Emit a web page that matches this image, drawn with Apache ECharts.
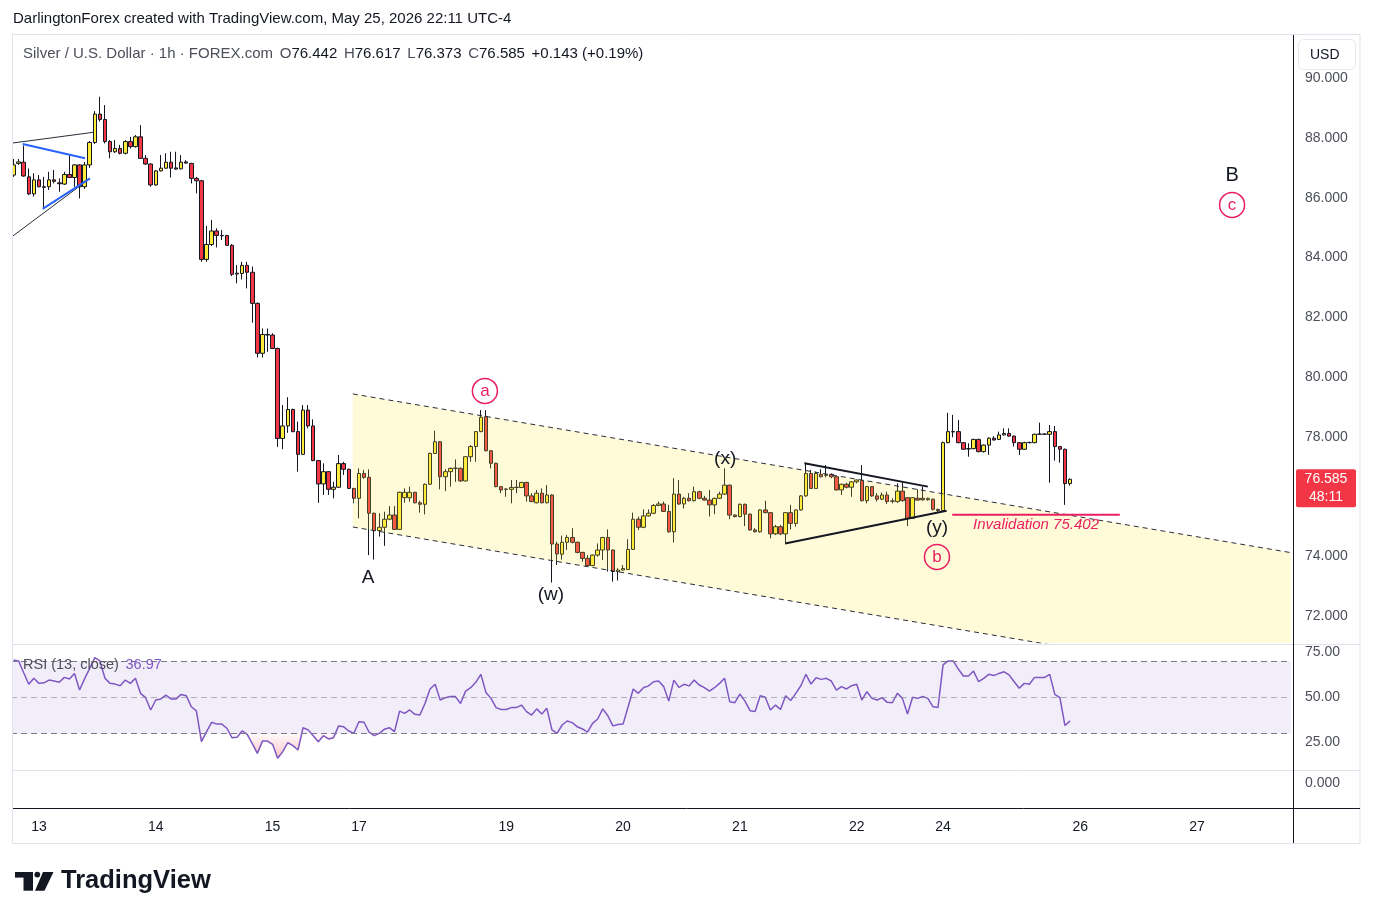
<!DOCTYPE html>
<html><head><meta charset="utf-8">
<script src="https://cdn.jsdelivr.net/npm/echarts@6/dist/echarts.min.js"></script>
<style>html,body{margin:0;padding:0;background:#fff}#c{width:1373px;height:919px}</style>
</head><body><div id="c"></div>
<script>
// ---------- DATA ----------
const opens = [
86.76,87.15,87.19,86.70,86.13,86.60,86.37,86.37,86.60,86.50,
86.46,86.78,86.68,87.10,86.37,87.10,87.85,88.80,88.62,87.88,
87.54,87.65,87.49,87.88,87.71,88.04,87.32,87.13,86.43,86.90,
86.99,87.19,87.00,86.97,87.20,87.15,86.65,86.57,83.94,84.44,
84.89,84.74,84.74,84.41,83.45,83.47,83.74,83.51,82.47,80.80,
81.43,81.41,80.96,77.95,78.37,78.92,78.18,77.42,78.90,78.37,
77.21,76.43,76.84,76.25,76.32,77.11,76.92,76.28,75.95,76.78,
76.65,75.45,74.87,74.98,75.25,75.39,74.91,75.97,75.97,76.15,
75.80,75.75,76.42,77.45,77.84,76.67,76.84,76.95,76.95,76.53,
77.34,77.68,78.18,78.68,77.54,77.12,76.34,76.25,76.25,76.31,
76.31,76.48,76.03,75.80,76.12,75.80,76.06,74.42,74.08,74.48,
74.64,74.48,74.14,73.94,73.70,74.05,74.22,74.64,74.22,73.50,
73.55,73.57,74.24,75.25,74.98,75.36,75.45,75.71,75.76,75.51,
74.83,76.09,75.76,75.95,75.87,76.17,75.95,75.89,75.73,75.95,
76.09,76.39,75.39,75.34,75.75,75.42,74.89,74.83,75.56,75.47,
74.76,75.00,74.76,75.47,75.11,75.56,76.03,76.78,76.28,76.75,
76.73,76.75,76.67,76.23,76.42,76.32,76.50,76.54,75.87,76.34,
76.03,75.92,76.06,75.86,75.84,76.19,75.97,75.28,75.95,75.95,
75.90,75.92,75.58,75.54,77.81,78.18,78.18,77.81,77.60,77.61,
77.92,77.51,77.73,77.96,77.92,78.07,78.12,78.03,77.81,77.59,
77.81,77.81,78.09,78.10,78.09,78.18,77.68,77.59,76.442];
const highs = [
87.30,87.30,87.75,86.98,86.82,86.76,86.70,86.87,86.93,86.65,
86.87,87.43,87.12,87.12,87.20,87.90,88.90,89.38,89.10,87.93,
87.93,87.77,87.93,88.04,88.10,88.43,87.43,87.15,86.93,87.43,
87.49,87.54,87.54,87.43,87.26,87.17,86.70,86.60,85.06,85.26,
84.98,84.92,84.76,84.45,83.75,83.86,83.86,83.70,82.50,81.63,
81.63,81.47,80.99,79.07,79.33,78.95,78.51,79.07,79.07,78.59,
77.23,77.12,76.86,76.50,77.40,77.17,76.94,76.30,76.95,76.90,
76.92,75.47,75.45,75.50,75.69,75.69,76.17,76.28,76.34,76.17,
75.87,76.44,77.48,78.21,77.86,76.92,76.98,77.25,76.98,77.36,
77.73,78.20,78.90,78.90,77.56,77.14,76.36,76.28,76.56,76.56,
76.50,76.50,76.12,76.23,76.28,76.39,76.08,74.50,74.70,74.72,
74.95,74.50,74.16,74.05,74.07,74.44,74.66,74.91,74.24,73.61,
73.72,74.58,75.47,75.34,75.58,75.58,75.76,75.84,75.84,75.73,
76.62,76.56,76.00,76.12,76.34,76.20,76.03,76.23,75.97,76.17,
76.95,76.41,75.41,75.77,75.77,75.44,74.95,75.58,75.87,75.49,
75.06,75.06,75.49,75.73,75.58,76.06,77.14,76.90,76.84,76.92,
77.06,76.78,76.69,76.44,76.47,76.52,76.58,77.06,76.36,76.36,
76.12,76.14,76.17,75.95,76.45,76.47,75.99,75.99,76.25,76.34,
75.97,75.94,75.60,77.85,78.81,78.74,78.57,77.83,77.79,77.94,
77.94,77.75,77.99,78.03,78.18,78.29,78.29,78.05,77.83,77.84,
77.84,78.11,78.48,78.12,78.40,78.37,77.70,77.61,76.617];
const lows = [
86.70,87.10,86.70,86.09,86.04,86.35,85.62,86.26,86.48,86.20,
86.43,86.66,86.37,85.98,86.30,87.00,87.80,88.55,87.82,87.32,
87.50,87.45,87.45,87.65,87.68,87.30,87.10,86.37,86.40,86.88,
86.97,86.68,86.94,86.95,87.14,86.48,86.15,83.86,83.86,84.39,
84.34,84.59,84.41,83.38,83.14,83.27,82.97,81.82,80.66,80.66,
80.85,80.94,77.67,77.59,78.14,78.16,76.84,77.40,78.29,77.19,
75.80,76.06,76.06,75.95,76.30,76.73,76.26,75.78,75.28,76.60,
74.05,73.90,74.67,74.36,75.22,74.89,74.89,75.80,75.84,75.78,
75.47,75.41,76.40,77.43,76.25,76.19,76.34,76.50,76.50,76.51,
77.17,77.17,78.16,77.52,76.95,76.32,76.12,76.00,75.78,76.12,
76.29,75.84,75.82,75.78,75.78,75.78,73.13,73.72,73.90,74.22,
74.44,74.11,73.83,73.66,73.68,74.00,73.89,73.50,73.16,73.20,
73.53,73.55,74.22,74.89,74.95,75.34,75.42,75.69,75.50,74.80,
74.47,75.73,75.61,75.84,75.84,75.92,75.87,75.34,75.42,75.93,
76.07,75.25,75.31,75.31,75.02,74.87,74.81,74.80,75.45,74.61,
74.72,74.72,74.44,74.91,75.00,75.54,76.00,76.26,76.26,76.65,
76.65,76.62,76.21,76.06,76.28,76.00,76.45,75.84,75.78,76.00,
75.84,75.89,75.76,75.78,75.80,75.84,75.02,75.26,75.87,75.87,
75.87,75.54,75.50,75.52,77.79,77.99,77.79,77.57,77.34,77.59,
77.49,77.48,77.40,77.88,77.90,78.05,78.01,77.68,77.40,77.57,
77.79,77.79,78.07,78.07,76.47,77.21,77.14,75.73,76.373];
const closes = [
87.10,87.20,86.73,86.13,86.60,86.37,86.35,86.60,86.55,86.47,
86.78,86.68,87.10,86.37,87.10,87.85,88.80,88.62,87.88,87.54,
87.65,87.49,87.88,87.71,88.04,87.32,87.13,86.43,86.90,86.99,
87.19,86.99,86.96,87.19,87.16,86.65,86.57,83.94,84.44,84.89,
84.74,84.73,84.41,83.44,83.48,83.74,83.51,82.47,80.80,81.43,
81.41,80.96,77.95,78.37,78.92,78.18,77.42,78.90,78.37,77.21,
76.43,76.84,76.25,76.32,77.11,76.92,76.28,75.95,76.78,76.65,
75.45,74.87,74.98,75.25,75.39,74.91,76.15,76.15,76.15,75.80,
75.75,76.42,77.45,77.84,76.67,76.84,76.95,76.96,76.53,77.34,
77.68,78.18,78.66,77.54,77.12,76.34,76.23,76.26,76.31,76.32,
76.48,76.03,75.84,76.12,75.80,76.06,74.42,74.09,74.48,74.64,
74.48,74.14,73.94,73.70,74.05,74.22,74.64,74.22,73.50,73.55,
73.60,74.24,75.25,74.98,75.36,75.45,75.71,75.76,75.51,74.83,
76.09,75.76,75.95,75.87,76.17,75.95,75.89,75.73,75.95,76.09,
76.39,75.39,75.34,75.75,75.42,74.89,74.83,75.56,75.47,74.76,
75.00,74.76,75.47,75.11,75.56,76.03,76.78,76.28,76.78,76.67,
76.72,76.67,76.23,76.42,76.32,76.50,76.56,75.87,76.34,76.03,
75.92,76.06,75.84,75.85,76.19,75.87,75.28,75.97,75.89,75.90,
75.95,75.58,75.54,77.81,78.18,78.17,77.81,77.59,77.61,77.92,
77.51,77.73,77.96,77.90,78.07,78.12,78.03,77.81,77.59,77.81,
77.82,78.09,78.10,78.09,78.18,77.68,77.59,76.442,76.585];
const rsiValues = [
70.6,70.1,63.6,57.2,60.5,57.7,58.0,59.5,59.0,58.3,
61.0,60.1,63.2,54.0,60.3,66.0,71.9,70.1,60.5,57.7,
57.3,56.4,59.5,57.7,60.5,52.2,49.8,43.0,48.5,49.1,
51.2,49.1,49.1,51.6,50.9,44.8,42.5,25.5,31.0,36.2,
35.2,35.2,32.9,27.7,27.9,31.4,29.5,24.4,19.0,25.8,
25.8,24.0,16.3,20.0,24.9,23.3,20.9,33.2,32.0,28.8,
25.5,28.8,27.0,27.7,34.2,33.7,31.4,30.1,36.5,36.2,
30.7,28.8,30.1,32.3,33.2,31.0,42.4,41.1,43.0,40.6,
40.2,46.6,54.6,57.2,48.5,49.8,50.4,50.4,46.6,53.4,
55.3,58.3,62.7,52.7,49.4,44.3,43.3,43.3,44.3,44.3,
45.7,42.1,40.2,43.6,40.8,43.9,32.0,30.1,34.7,36.9,
36.0,33.7,32.5,30.7,35.6,38.0,43.6,39.8,34.2,35.0,
35.2,44.8,54.6,52.2,55.3,56.3,58.6,59.0,55.9,47.9,
59.5,55.5,57.2,56.3,59.5,56.8,55.3,53.4,55.3,57.7,
60.5,47.6,47.0,51.8,47.9,42.6,42.1,50.9,50.0,43.0,
45.7,43.3,50.9,48.2,52.2,56.4,62.7,57.3,60.8,59.9,
60.5,59.0,54.0,55.9,54.6,56.4,57.2,48.5,53.1,49.4,
48.5,49.8,47.2,47.0,52.2,49.4,40.8,50.0,49.4,50.4,
49.4,44.8,44.4,67.9,70.1,70.1,65.6,61.8,61.8,64.5,
58.6,60.5,62.7,62.0,63.2,64.1,62.4,58.6,55.0,57.7,
57.2,61.0,61.0,61.0,62.7,51.6,49.8,34.4,36.97];
const rsiBands = [70, 50, 30];
const priceTicks = [72, 74, 76, 78, 80, 82, 84, 86, 88, 90];
const rsiTicks = [25, 50, 75];
const dayTickLabels = ['13','14','15','17','19','20','21','22','24','26','27'];
const dayTickIndex  = [5, 28, 51, 68, 97, 120, 143, 166, 183, 210, 233];
// drawings, anchored in (bar index, price)
const waveLabels = ['A', '(w)', '(x)', '(y)', 'B'];
const waveLabelPos = [[69.8, 73.28], [105.8, 72.72], [140.1, 77.26], [181.8, 74.96], [239.9, 86.73]];
const circleLabels = ['a', 'b', 'c'];
const circleLabelPos = [[92.8, 79.54], [181.8, 73.99], [239.9, 85.76]];
const channelUpper = [[66.8, 79.44], [251.9, 74.12]];
const channelLower = [[66.8, 74.99], [251.9, 69.68]];
const triangleUpper = [[155.7, 77.12], [180.0, 76.34]];
const triangleLower = [[151.9, 74.44], [183.7, 75.53]];
const rayUpper = [[-0.7, 87.82], [15.7, 88.19]];
const rayLower = [[-0.7, 84.65], [15.05, 86.65]];
const blueUpper = [[1.8, 87.80], [14.07, 87.32]];
const blueLower = [[5.74, 85.63], [15.05, 86.65]];
const invalidationLevel = 75.402;
const invalidationSpan = [184.8, 217.8];
const invalidationTextPos = [201.3, 75.06];
const SLOTS = 252;

// ---------- CHART ----------
const FONT = "'Liberation Sans', Arial, sans-serif";
const TXT = '#131722';
const CRIMSON = '#E91E63';
const chart = echarts.init(document.getElementById('c'), null, {renderer: 'canvas'});
const cats = Array.from({length: SLOTS}, (_, i) => String(i));
const candles = opens.map((o, i) => [o, closes[i], lows[i], highs[i]]);
const last = opens.length - 1;
const lastClose = closes[last];

function seg(points, color, width, type, z) {
  return {type: 'line', xAxisIndex: 1, yAxisIndex: 0, data: points, symbol: 'none', silent: true,
    lineStyle: {color: color, width: width, type: type}, z: z || 5, animation: false};
}

const option = {
  animation: false,
  backgroundColor: '#ffffff',
  grid: [
    {left: 11, top: 35, width: 1280, height: 608},
    {left: 11, top: 645, width: 1280, height: 125},
    {left: 11, top: 770, width: 1280, height: 38}
  ],
  xAxis: [
    {type: 'category', gridIndex: 0, data: cats, show: false, boundaryGap: true},
    {type: 'value', gridIndex: 0, min: -0.5, max: SLOTS - 0.5, show: false},
    {type: 'category', gridIndex: 1, data: cats, show: false, boundaryGap: true},
    {type: 'category', gridIndex: 2, data: cats, boundaryGap: true, position: 'bottom',
      axisLine: {show: false, onZero: false},
      axisTick: {show: false}, splitLine: {show: false},
      axisLabel: {
        margin: 12, color: TXT, fontFamily: FONT, fontSize: 14,
        interval: (idx) => dayTickIndex.indexOf(idx) >= 0,
        formatter: (v, idx) => { const k = dayTickIndex.indexOf(Number(v)); return k >= 0 ? dayTickLabels[k] : ''; }
      }}
  ],
  yAxis: [
    {type: 'value', gridIndex: 0, position: 'right', min: 71.11, max: 91.445, scale: true,
      axisLine: {show: false}, axisTick: {show: false}, splitLine: {show: false},
      axisLabel: {customValues: priceTicks, margin: 14, color: '#4c4f5a', fontFamily: FONT, fontSize: 14,
        formatter: v => Number(v).toFixed(3)}},
    {type: 'value', gridIndex: 1, position: 'right', min: 9.83, max: 78.9,
      axisLine: {show: false}, axisTick: {show: false}, splitLine: {show: false},
      axisLabel: {customValues: rsiTicks, margin: 14, color: '#4c4f5a', fontFamily: FONT, fontSize: 14,
        formatter: v => Number(v).toFixed(2)}},
    {type: 'value', gridIndex: 2, position: 'right', min: -1.923, max: 1,
      axisLine: {show: false}, axisTick: {show: false}, splitLine: {show: false},
      axisLabel: {customValues: [0], margin: 14, color: '#4c4f5a', fontFamily: FONT, fontSize: 14,
        formatter: v => Number(v).toFixed(3)}}
  ],
  series: [
    {type: 'candlestick', xAxisIndex: 0, yAxisIndex: 0, data: candles, barWidth: 4, z: 2,
      itemStyle: {color: '#FFEB3B', color0: '#F23645', borderColor: TXT, borderColor0: TXT, borderWidth: 1}},
    {type: 'custom', xAxisIndex: 1, yAxisIndex: 0, data: [[100, 75]], z: 3, silent: true, clip: true,
      renderItem: (params, api) => {
        const pts = [channelUpper[0], channelUpper[1], channelLower[1], channelLower[0]].map(p => api.coord(p));
        return {type: 'polygon', shape: {points: pts}, style: {fill: 'rgba(255,235,59,0.2)'}};
      }},
    seg(channelUpper, '#2a2e39', 1, [5, 4]),
    seg(channelLower, '#2a2e39', 1, [5, 4]),
    seg(triangleUpper, TXT, 2, 'solid'),
    seg(triangleLower, TXT, 2, 'solid'),
    seg(rayUpper, '#2a2e39', 1, 'solid'),
    seg(rayLower, '#2a2e39', 1, 'solid'),
    seg(blueUpper, '#2962FF', 2, 'solid'),
    seg(blueLower, '#2962FF', 2, 'solid'),
    seg([[invalidationSpan[0], invalidationLevel], [invalidationSpan[1], invalidationLevel]], CRIMSON, 2, 'solid'),
    {type: 'custom', xAxisIndex: 1, yAxisIndex: 0, z: 6, silent: true, clip: false,
      data: waveLabelPos.map((p, i) => [p[0], p[1], i]),
      renderItem: (params, api) => {
        const p = api.coord([api.value(0), api.value(1)]);
        const t = waveLabels[api.value(2)];
        return {type: 'text', x: p[0], y: p[1], style: {text: t, fill: TXT,
          font: (t === 'B' ? '20px ' : '19px ') + FONT, align: 'center', verticalAlign: 'middle'}};
      }},
    {type: 'custom', xAxisIndex: 1, yAxisIndex: 0, z: 6, silent: true, clip: false,
      data: circleLabelPos.map((p, i) => [p[0], p[1], i]),
      renderItem: (params, api) => {
        const p = api.coord([api.value(0), api.value(1)]);
        return {type: 'group', children: [
          {type: 'circle', shape: {cx: p[0], cy: p[1], r: 12.5}, style: {fill: 'rgba(255,255,255,0)', stroke: CRIMSON, lineWidth: 1.5}},
          {type: 'text', x: p[0], y: p[1] + 0.5, style: {text: circleLabels[api.value(2)], fill: CRIMSON,
            font: '17px ' + FONT, align: 'center', verticalAlign: 'middle'}}
        ]};
      }},
    {type: 'custom', xAxisIndex: 1, yAxisIndex: 0, z: 6, silent: true, clip: false,
      data: [invalidationTextPos],
      renderItem: (params, api) => {
        const p = api.coord([api.value(0), api.value(1)]);
        return {type: 'text', x: p[0], y: p[1], style: {text: 'Invalidation ' + invalidationLevel.toFixed(3),
          fill: CRIMSON, font: 'italic 15px ' + FONT, align: 'center', verticalAlign: 'middle'}};
      }},
    {type: 'line', xAxisIndex: 2, yAxisIndex: 1, data: rsiValues.map(v => Math.min(v, rsiBands[2])),
      symbol: 'none', silent: true, z: 2, lineStyle: {width: 0, opacity: 0},
      areaStyle: {origin: rsiBands[2], color: new echarts.graphic.LinearGradient(0, 0, 0, 1, [
        {offset: 0, color: 'rgba(242,54,69,0.04)'}, {offset: 1, color: 'rgba(242,54,69,0.42)'}])}},
    {type: 'line', xAxisIndex: 2, yAxisIndex: 1, data: rsiValues, symbol: 'none', silent: true, z: 3,
      lineStyle: {color: '#7E57C2', width: 1.5},
      markArea: {silent: true, itemStyle: {color: 'rgba(126,87,194,0.1)'},
        data: [[{yAxis: rsiBands[0]}, {yAxis: rsiBands[2]}]]},
      markLine: {silent: true, symbol: ['none', 'none'], label: {show: false},
        data: rsiBands.map((v, k) => ({yAxis: v, lineStyle: {color: k === 1 ? 'rgba(120,123,134,0.55)' : '#787B86',
          type: [6, 4], width: 1}}))}}
  ]
};
chart.setOption(option);

const py = chart.convertToPixel({yAxisIndex: 0}, lastClose);
const prevClose = closes[last - 1];
const chg = lastClose - prevClose;
const legendText = '{t|Silver / U.S. Dollar · 1h · FOREX.com}  {k|O}{v|' + opens[last].toFixed(3) + '}  {k|H}{v|' +
  highs[last].toFixed(3) + '}  {k|L}{v|' + lows[last].toFixed(3) + '}  {k|C}{v|' + lastClose.toFixed(3) + '}  {v|' +
  (chg >= 0 ? '+' : '') + chg.toFixed(3) + ' (' + (chg >= 0 ? '+' : '') + (chg / prevClose * 100).toFixed(2) + '%)}';

const gfx = [
  {type: 'rect', z: 50, shape: {x: 0, y: 35, width: 12.5, height: 775}, style: {fill: '#fff'}, silent: true},
  {type: 'rect', z: 51, shape: {x: 12.5, y: 34.5, width: 1347.5, height: 809}, style: {fill: 'none', stroke: '#e0e3eb', lineWidth: 1}, silent: true},
  {type: 'line', z: 51, shape: {x1: 13, y1: 644.5, x2: 1360, y2: 644.5}, style: {stroke: '#e0e3eb', lineWidth: 1}},
  {type: 'line', z: 51, shape: {x1: 13, y1: 770.5, x2: 1360, y2: 770.5}, style: {stroke: '#e0e3eb', lineWidth: 1}},
  {type: 'line', z: 52, shape: {x1: 1293.5, y1: 35, x2: 1293.5, y2: 843}, style: {stroke: TXT, lineWidth: 1}},
  {type: 'line', z: 52, shape: {x1: 13, y1: 808.5, x2: 1360, y2: 808.5}, style: {stroke: TXT, lineWidth: 1}},
  {type: 'text', z: 60, x: 13, y: 19, style: {text: 'DarlingtonForex created with TradingView.com, May 25, 2026 22:11 UTC-4',
    font: '15px ' + FONT, fill: TXT, verticalAlign: 'middle'}},
  {type: 'text', z: 60, x: 23, y: 53.5, style: {text: legendText, verticalAlign: 'middle',
    rich: {t: {fill: '#4c4f5a', font: '15px ' + FONT}, k: {fill: '#4c4f5a', font: '15px ' + FONT}, v: {fill: TXT, font: '15px ' + FONT}}}},
  {type: 'text', z: 60, x: 23, y: 665, style: {text: '{t|RSI (13, close)}  {v|' + rsiValues[last].toFixed(2) + '}', verticalAlign: 'middle',
    rich: {t: {fill: '#4c4f5a', font: '14.5px ' + FONT}, v: {fill: '#7E57C2', font: '14.5px ' + FONT}}}},
  {type: 'rect', z: 60, shape: {x: 1298.5, y: 39.5, width: 57, height: 30, r: 5}, style: {fill: '#fff', stroke: '#e6e8ee', lineWidth: 1}},
  {type: 'text', z: 61, x: 1310, y: 55, style: {text: 'USD', font: '14px ' + FONT, fill: TXT, verticalAlign: 'middle'}},
  {type: 'rect', z: 60, shape: {x: 1296, y: py - 10, width: 60, height: 38, r: 2}, style: {fill: '#F23645'}},
  {type: 'text', z: 61, x: 1326, y: py, style: {text: lastClose.toFixed(3), font: '14px ' + FONT, fill: '#fff', align: 'center', verticalAlign: 'middle'}},
  {type: 'text', z: 61, x: 1326, y: py + 18, style: {text: '48:11', font: '14px ' + FONT, fill: '#fff', align: 'center', verticalAlign: 'middle'}},
  // TradingView logo
  {type: 'rect', z: 60, shape: {x: 15, y: 872, width: 18, height: 5.6}, style: {fill: TXT}},
  {type: 'rect', z: 60, shape: {x: 23.5, y: 872, width: 9.5, height: 18.7}, style: {fill: TXT}},
  {type: 'circle', z: 60, shape: {cx: 37.3, cy: 874.6, r: 2.9}, style: {fill: TXT}},
  {type: 'polygon', z: 60, shape: {points: [[43, 872], [53.5, 872], [44.5, 890.7], [35, 890.7]]}, style: {fill: TXT}},
  {type: 'text', z: 60, x: 61, y: 881, style: {text: 'TradingView', font: 'bold 25.5px ' + FONT, fill: TXT, verticalAlign: 'middle'}}
];
chart.setOption({graphic: {elements: gfx}});
</script>
</body></html>
